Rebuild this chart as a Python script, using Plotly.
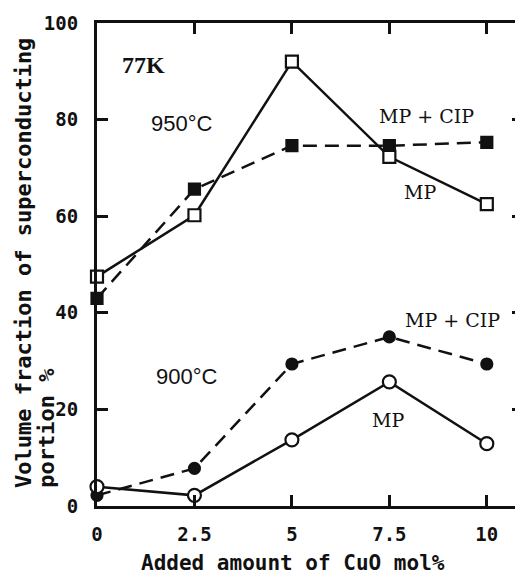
import plotly.graph_objects as go

# CuO added (mol%)
cuo = [0, 2.5, 5, 7.5, 10]

# volume fraction of superconducting portion (%)
mp_950 = [47.5, 60.2, 92.0, 72.3, 62.5]
mpcip_950 = [43.0, 65.6, 74.6, 74.6, 75.3]
mp_900 = [4.0, 2.2, 13.7, 25.7, 12.9]
mpcip_900 = [2.2, 7.8, 29.4, 35.0, 29.4]

x_ticks = [0, 2.5, 5, 7.5, 10]
x_ticklabels = ["0", "2.5", "5", "7.5", "10"]
y_ticks = [0, 20, 40, 60, 80, 100]

MONO = "DejaVu Sans Mono"
BLACK = "#111111"

fig = go.Figure()

def add_series(y, symbol, filled, dashed, size):
    fig.add_trace(go.Scatter(
        x=cuo, y=y, mode="lines+markers",
        line=dict(color=BLACK, width=2.5, dash="14px,8px" if dashed else "solid"),
        marker=dict(symbol=symbol, size=size, color=BLACK if filled else "white",
                    line=dict(color=BLACK, width=2.2)),
        cliponaxis=False, showlegend=False,
    ))

add_series(mpcip_950, "square", True, True, 11)
add_series(mp_950, "square", False, False, 12)
add_series(mpcip_900, "circle", True, True, 11)
add_series(mp_900, "circle", False, False, 13)

# dummy trace on the right axis so its ticks show
fig.add_trace(go.Scatter(x=[None], y=[None], yaxis="y2", showlegend=False))

def label(text, x, y, family="DejaVu Serif", size=19, weight="normal"):
    fig.add_annotation(x=x, y=y, text=text, showarrow=False,
                       font=dict(family=family, size=size, color=BLACK, weight=weight))

label("77K", 1.18, 91.3, family="Liberation Serif", size=24, weight="bold")
label("950°C", 2.18, 79.1, family="Liberation Sans", size=22)
label("MP + CIP", 8.46, 80.7)
label("MP", 8.28, 65.0)
label("900°C", 2.31, 26.9, family="Liberation Sans", size=22)
label("MP + CIP", 9.13, 38.5)
label("MP", 7.46, 17.8)

# axis titles
title_font = dict(family=MONO, size=22, color=BLACK, weight="bold")
fig.add_annotation(xref="paper", yref="paper", x=0.466, y=-0.118,
                   text="Added amount of CuO mol%", showarrow=False,
                   xanchor="center", yanchor="middle",
                   font=dict(family=MONO, size=21, color=BLACK, weight="bold"))
# y title, two lines both starting at the bottom
fig.add_annotation(xref="paper", yref="paper", x=-0.176, y=0.033,
                   text="Volume fraction of superconducting",
                   showarrow=False, textangle=-90,
                   xanchor="center", yanchor="bottom", font=title_font)
fig.add_annotation(xref="paper", yref="paper", x=-0.122, y=0.033,
                   text="portion %",
                   showarrow=False, textangle=-90,
                   xanchor="center", yanchor="bottom", font=title_font)

tickfont = dict(family=MONO, size=19, color=BLACK, weight="bold")

# page body has an 8px margin, so the figure is shrunk to fit the window
fig.update_layout(
    width=515, height=569,
    margin=dict(l=89, r=5, t=15, b=71),
    plot_bgcolor="white", paper_bgcolor="white",
    xaxis=dict(range=[0, 10.8], tickvals=x_ticks, ticktext=x_ticklabels,
               showline=True, linewidth=3, linecolor=BLACK, mirror="ticks",
               ticks="inside", ticklen=11, tickwidth=2.5, tickcolor=BLACK,
               showgrid=False, zeroline=False, tickfont=tickfont,
               ticklabelstandoff=9, automargin=False),
    yaxis=dict(range=[0, 100], tickvals=y_ticks,
               showline=True, linewidth=3, linecolor=BLACK,
               ticks="inside", ticklen=11, tickwidth=2.5, tickcolor=BLACK,
               showgrid=False, zeroline=False, tickfont=tickfont,
               ticklabelstandoff=12, automargin=False),
    yaxis2=dict(range=[0, 100], overlaying="y", side="right", matches="y",
                tickvals=[20, 40, 60, 80], showticklabels=False,
                showline=False, ticks="inside", ticklen=6, tickwidth=2.5,
                tickcolor=BLACK, showgrid=False, zeroline=False, automargin=False),
)

fig.write_html("out.html")
